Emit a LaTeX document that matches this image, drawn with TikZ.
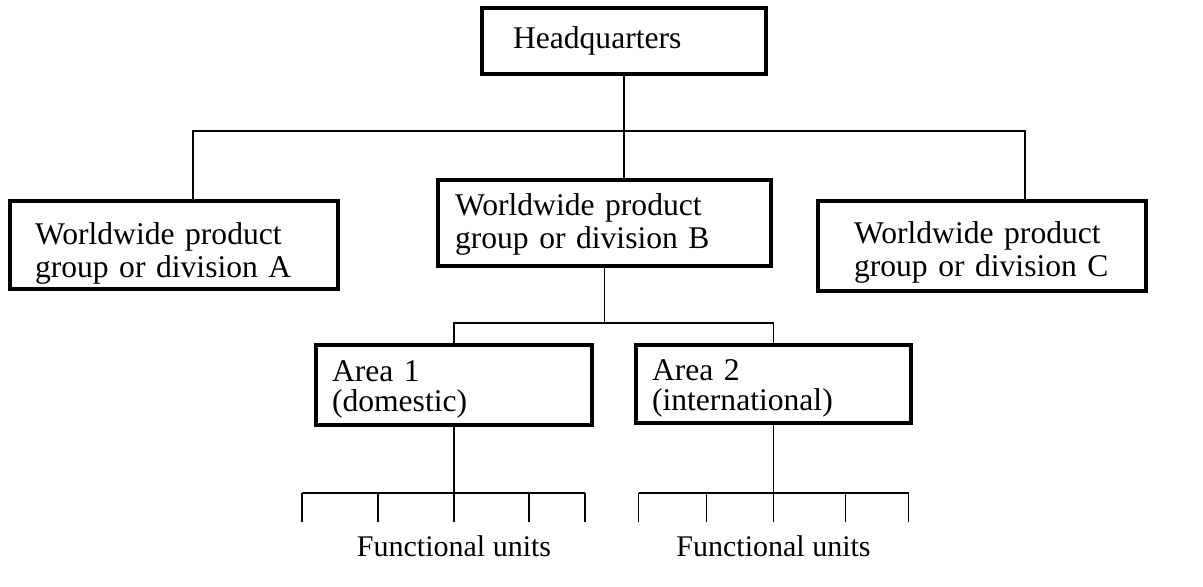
\documentclass[tikz,border=0pt]{standalone}
\usepackage{fontspec}
\setmainfont{Liberation Serif}
\usetikzlibrary{positioning}

\begin{document}
\begin{tikzpicture}[
        x=0.5pt, y=-0.5pt,
        font=\fontsize{15.8}{16.5}\selectfont,
        unit/.style={
            draw,
            line width=2.2pt,
            align=left,
            inner ysep=0pt
        },
        area/.style={unit, font=\fontsize{15.8}{15}\selectfont},
        link/.style={line width=0.9pt}
    ]
    \useasboundingbox (0,0) rectangle (1203,586);

    \node[unit, inner xsep=15.5pt, text width=111pt, minimum height=33pt] (HQ) at (624,41) {Headquarters};
    \node[unit, inner xsep=12.5pt, text width=139pt, minimum height=44pt, text height=19pt] (A) at (174,245) {Worldwide product\\group or division A};
    \node[unit, inner xsep=8.5pt, text width=149.5pt, minimum height=43pt, text height=12.5pt] (B) at (604.5,223) {Worldwide product\\group or division B};
    \node[unit, inner xsep=18pt, text width=128pt, minimum height=45pt, text height=17.5pt] (C) at (982,246) {Worldwide product\\group or division C};
    \node[area, inner xsep=8pt, text width=122pt, minimum height=40pt, text height=14.7pt] (A1) at (454,385) {Area 1\\(domestic)};
    \node[area, inner xsep=8pt, text width=121.5pt, minimum height=39pt, text height=14.7pt] (A2) at (773.5,384) {Area 2\\(international)};

    \coordinate (ta) at (193,131);
    \coordinate (tc) at (1025,131);
    \coordinate[below=27.5pt of B] (bbar);
    \coordinate[below=33pt of A1] (f1);
    \coordinate[below=34pt of A2] (f2);

    \draw[link] (HQ.south) -- (HQ.south |- B.north);
    \draw[link] (ta |- A.north) -- (ta) -- (tc) -- (tc |- C.north);
    \draw[link] (B) -- (bbar);
    \draw[link] (A1.north) |- (bbar) -| (A2.north);

    \draw[link] (A1) -- (f1);
    \draw[link] ([xshift=-76pt]f1) -- ([xshift=65.5pt]f1);
    \foreach \dx in {-76,-38,0,37.5,65.5}
        \draw[link] ([xshift=\dx pt]f1) -- ++(0,29);

    \draw[link] (A2) -- (f2);
    \draw[link] ([xshift=-67.5pt]f2) -- ([xshift=67.5pt]f2);
    \foreach \dx in {-67.5,-33.5,0,36,67.5}
        \draw[link] ([xshift=\dx pt]f2) -- ++(0,29);

    \node[anchor=base, font=\fontsize{15}{17}\selectfont] (U1) at (f1 |- 0,556) {Functional units};
    \node[anchor=base, font=\fontsize{15}{17}\selectfont] (U2) at (f2 |- 0,556) {Functional units};
\end{tikzpicture}
\end{document}
